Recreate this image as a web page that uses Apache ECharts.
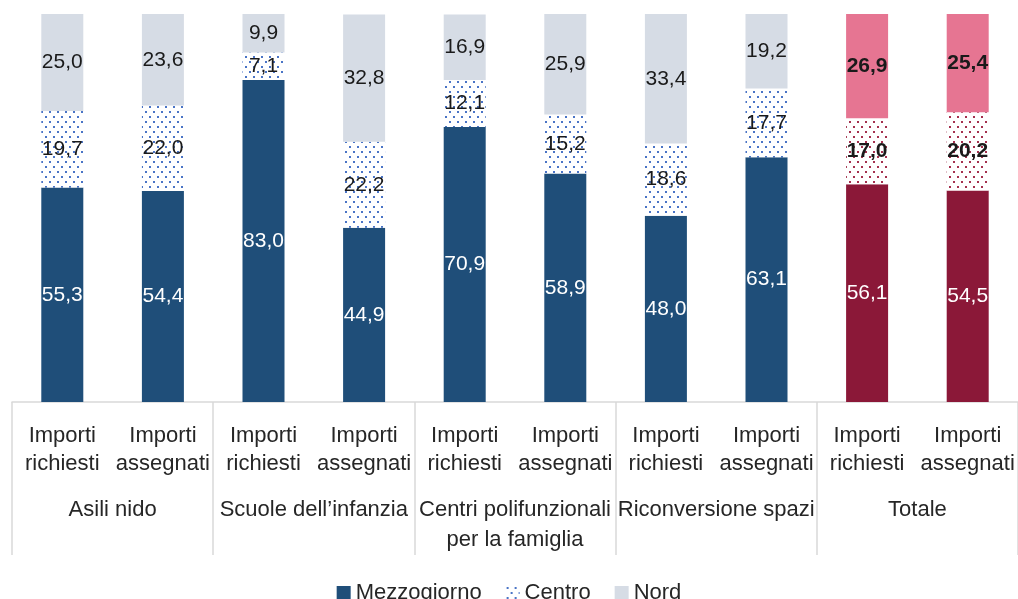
<!DOCTYPE html>
<html>
<head>
<meta charset="utf-8">
<script src="https://cdn.jsdelivr.net/npm/echarts@6/dist/echarts.min.js"></script>
<style>html,body{margin:0;padding:0;background:#fff}#c{width:1018px;height:599px}</style>
</head>
<body>
<div id="c"></div>
<script>
const categories = ['Importi\nrichiesti','Importi\nassegnati','Importi\nrichiesti','Importi\nassegnati','Importi\nrichiesti','Importi\nassegnati','Importi\nrichiesti','Importi\nassegnati','Importi\nrichiesti','Importi\nassegnati'];
const groups = ['Asili nido','Scuole dell\u2019infanzia','Centri polifunzionali\nper la famiglia','Riconversione spazi','Totale'];
const mezzogiorno = [55.3,54.4,83.0,44.9,70.9,58.9,48.0,63.1,56.1,54.5];
const centro = [19.7,22.0,7.1,22.2,12.1,15.2,18.6,17.7,17.0,20.2];
const nord = [25.0,23.6,9.9,32.8,16.9,25.9,33.4,19.2,26.9,25.4];
const totalIdx = [8,9];

const FONT = 'Liberation Sans';
function dots(color){
  const c=document.createElement('canvas'); c.width=8; c.height=10;
  const g=c.getContext('2d'); g.fillStyle='#fff'; g.fillRect(0,0,8,10);
  g.fillStyle=color; g.fillRect(1,1,2,2); g.fillRect(5,6,2,2);
  return c;
}
const blueDots = {image: dots('#4a74c6'), repeat:'repeat'};
const redDots = {image: dots('#a4304e'), repeat:'repeat'};
const fmt = p => p.value.toFixed(1).replace('.', ',');

function mk(vals, name, color, totColor, labColor, totLab){
  return {
    name, type:'bar', stack:'s', barWidth:42, xAxisIndex:0,
    itemStyle:{color},
    label:{show:true, position:'inside', formatter:fmt, color:labColor, fontFamily:FONT, fontSize:21},
    data: vals.map((v,i)=> totalIdx.includes(i) ? {value:v, itemStyle:{color:totColor}, label:totLab} : v)
  };
}

const chart = echarts.init(document.getElementById('c'));
chart.setOption({
  animation:false,
  grid:{left:12,right:0,top:14,bottom:197},
  legend:{top:577, left:'center', icon:'rect', itemWidth:14, itemHeight:14, itemGap:24,
    textStyle:{fontFamily:FONT,fontSize:22,color:'#262626'},
    data:['Mezzogiorno','Centro','Nord']},
  xAxis:[
    {type:'category', data:categories, position:'bottom',
      axisLine:{show:false}, axisTick:{show:false},
      axisLabel:{interval:0, margin:20, lineHeight:28, fontFamily:FONT, fontSize:22, color:'#262626'}},
    {type:'category', data:groups, position:'bottom',
      axisLine:{show:true, lineStyle:{color:'#d9d9d9', width:1.5}},
      axisTick:{show:true, length:153, lineStyle:{color:'#d9d9d9', width:1.5}},
      axisLabel:{interval:0, margin:93, lineHeight:30, fontFamily:FONT, fontSize:22, color:'#262626'}}
  ],
  yAxis:{type:'value', min:0, max:100, show:false},
  series:[
    mk(mezzogiorno,'Mezzogiorno','#1f4e79','#8b1838','#ffffff',{color:'#ffffff'}),
    mk(centro,'Centro',blueDots,redDots,'#1a1a1a',{fontWeight:'bold'}),
    mk(nord,'Nord','#d6dce5','#e67592','#1a1a1a',{fontWeight:'bold'})
  ]
});
</script>
</body>
</html>
